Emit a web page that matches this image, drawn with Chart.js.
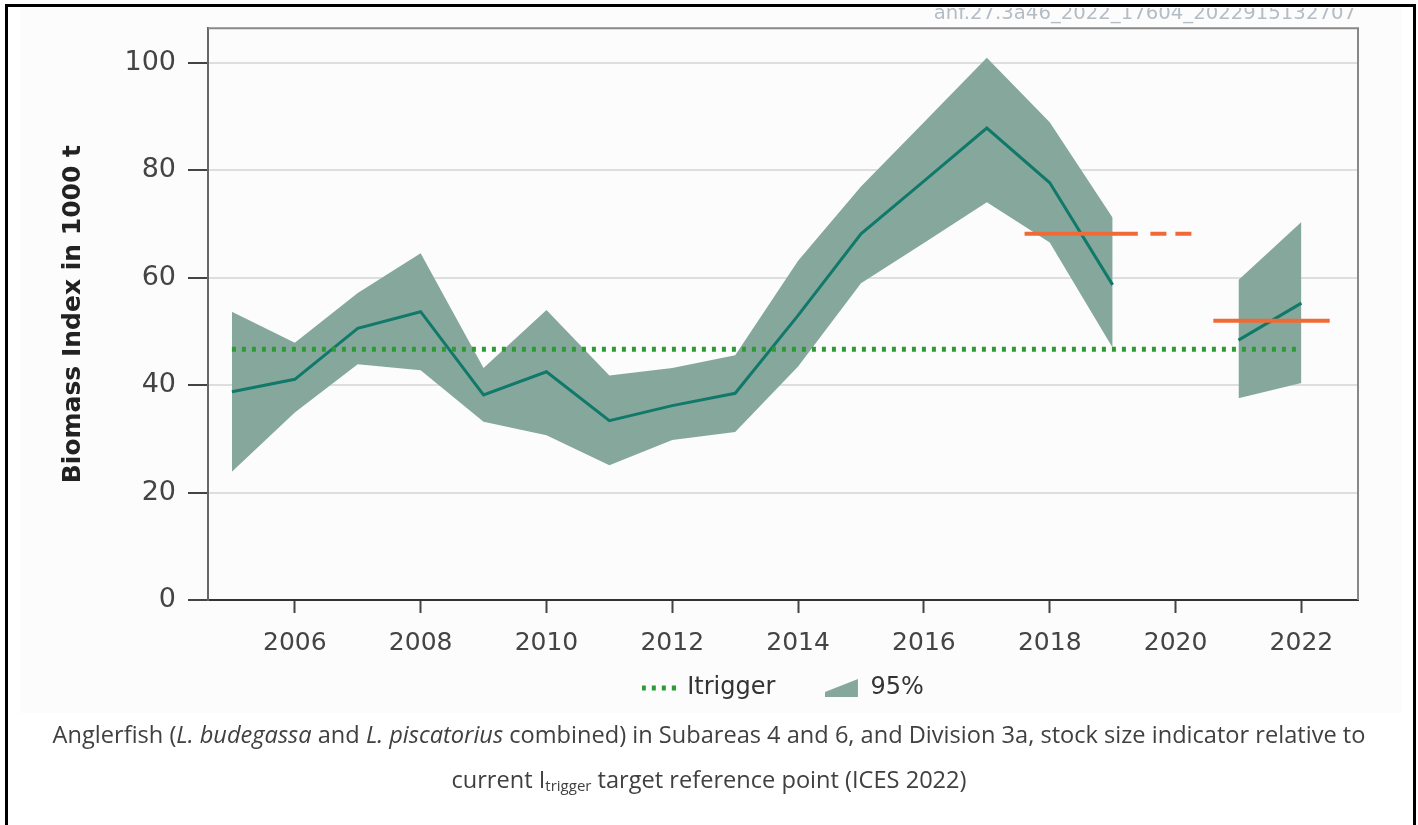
<!DOCTYPE html>
<html>
<head>
<meta charset="utf-8">
<script src="https://cdn.jsdelivr.net/npm/chart.js@4.4.1/dist/chart.umd.min.js"></script>
<style>
  html, body { margin: 0; padding: 0; background: #fff; overflow: hidden; }
  #bg { position: absolute; left: 20px; top: 8px; width: 1382px; height: 705px; background: #fcfcfc; }
  #chart { position: absolute; left: 0; top: 0; }
  #frame { position: absolute; left: 5px; top: 4px; width: 1411px; height: 840px; border: 3px solid #000; box-sizing: border-box; pointer-events: none; }
  #caption { position: absolute; left: 0; top: 712px; width: 1418px; text-align: center; color: #404040;
             font-family: "Open Sans", sans-serif; font-size: 23.6px; line-height: 45px; }
  #caption sub { font-size: 15px; vertical-align: -3px; line-height: 0; }
</style>
</head>
<body>
<div id="bg"></div>
<canvas id="chart" width="1418" height="710"></canvas>
<div id="frame"></div>
<div id="caption">
  Anglerfish (<i>L. budegassa</i> and <i>L. piscatorius</i> combined) in Subareas 4 and 6, and Division 3a, stock size indicator relative to<br>
  current I<sub>trigger</sub> target reference point (ICES 2022)
</div>
<script>
// valeurs (indice de biomasse, milliers de tonnes)
const years   = [2005, 2006, 2007, 2008, 2009, 2010, 2011, 2012, 2013, 2014, 2015, 2016, 2017, 2018, 2019, 2020, 2021, 2022];
const biomass = [38.8, 41.1, 50.6, 53.7, 38.2, 42.5, 33.4, 36.2, 38.5, 53.0, 68.2, 78.0, 87.9, 77.7, 58.7, null, 48.4, 55.3];
const lower95 = [23.9, 34.9, 43.9, 42.8, 33.2, 30.7, 25.1, 29.8, 31.3, 43.5, 59.0, 66.5, 74.1, 66.6, 47.0, null, 37.6, 40.4];
const upper95 = [53.7, 47.9, 57.2, 64.6, 43.2, 54.0, 41.8, 43.2, 45.6, 63.2, 77.0, 89.0, 101.0, 89.0, 71.2, null, 59.6, 70.4];

// Itrigger et lignes de référence (orange)
const itriggerValue = 46.7;
const itriggerYears = [2005, 2022];
const ref1Value = 68.2;
const ref1Years = [2017.6, 2019.4];
const ref1DashYears = [2019.6, 2020.35];
const ref2Value = 52.0;
const ref2Years = [2020.6, 2022.45];

const xTicks = [2006, 2008, 2010, 2012, 2014, 2016, 2018, 2020, 2022];
const yTicks = [0, 20, 40, 60, 80, 100];

const bandColor = '#86a89c';
const lineColor = '#10796a';
const greenColor = '#2e9a35';
const orangeColor = '#ef6a35';
const fontFamily = '"DejaVu Sans", Verdana, sans-serif';

// découpe une série en morceaux continus (trou en 2020)
function segments(values) {
  const out = [];
  let cur = [];
  years.forEach(function (yr, i) {
    if (values[i] == null) {
      if (cur.length) out.push(cur);
      cur = [];
    } else {
      cur.push({ x: yr, y: values[i] });
    }
  });
  if (cur.length) out.push(cur);
  return out;
}

function flat(xs, v) {
  return xs.map(function (x) { return { x: x, y: v }; });
}

const datasets = [];
const lowSegs = segments(lower95);
const upSegs = segments(upper95);
lowSegs.forEach(function (seg, k) {
  datasets.push({ data: seg, borderWidth: 0, pointRadius: 0, fill: false, order: 5 });
  datasets.push({ data: upSegs[k], borderWidth: 0, pointRadius: 0, backgroundColor: bandColor, fill: '-1', order: 5 });
});
segments(biomass).forEach(function (seg) {
  datasets.push({ data: seg, borderColor: lineColor, borderWidth: 3, pointRadius: 0, fill: false, order: 2 });
});
datasets.push({ data: flat(itriggerYears, itriggerValue), borderColor: greenColor, borderWidth: 5,
  borderDash: [4, 6], borderCapStyle: 'butt', pointRadius: 0, fill: false, order: 1 });
datasets.push({ data: flat(ref1Years, ref1Value), borderColor: orangeColor, borderWidth: 4, pointRadius: 0, fill: false, order: 0 });
datasets.push({ data: flat(ref1DashYears, ref1Value), borderColor: orangeColor, borderWidth: 4,
  borderDash: [16, 9], pointRadius: 0, fill: false, order: 0 });
datasets.push({ data: flat(ref2Years, ref2Value), borderColor: orangeColor, borderWidth: 4, pointRadius: 0, fill: false, order: 0 });

// icônes de la légende
function dottedIcon() {
  const c = document.createElement('canvas');
  c.width = 34; c.height = 8;
  const g = c.getContext('2d');
  g.strokeStyle = greenColor; g.lineWidth = 5; g.setLineDash([4, 6]);
  g.beginPath(); g.moveTo(0, 4); g.lineTo(34, 4); g.stroke();
  return c;
}
function wedgeIcon() {
  const c = document.createElement('canvas');
  c.width = 34; c.height = 20;
  const g = c.getContext('2d');
  g.fillStyle = bandColor;
  g.beginPath(); g.moveTo(0, 14); g.lineTo(33, 1); g.lineTo(33, 19); g.lineTo(0, 19); g.closePath(); g.fill();
  return c;
}
function blankIcon() {
  const c = document.createElement('canvas');
  c.width = 1; c.height = 1;
  return c;
}
// élément vide au milieu = espace entre les deux entrées
const icons = [dottedIcon(), blankIcon(), wedgeIcon()];
const legendTexts = ['Itrigger', '', '95%'];

const framePlugin = {
  id: 'frame',
  beforeDatasetsDraw: function (chart) {
    const ctx = chart.ctx, a = chart.chartArea;
    ctx.save();
    ctx.strokeStyle = '#888';
    ctx.lineWidth = 2;
    ctx.beginPath();
    ctx.moveTo(a.left, a.top);
    ctx.lineTo(a.right, a.top);
    ctx.lineTo(a.right, a.bottom);
    ctx.stroke();
    ctx.restore();
  }
};

const stampPlugin = {
  id: 'stamp',
  afterDraw: function (chart) {
    const ctx = chart.ctx;
    ctx.save();
    ctx.beginPath();
    ctx.rect(0, 8, chart.width, 30);
    ctx.clip();
    ctx.font = '19.7px ' + fontFamily;
    ctx.fillStyle = '#b4bcc4';
    ctx.textAlign = 'right';
    ctx.textBaseline = 'alphabetic';
    ctx.fillText('anf.27.3a46_2022_17604_2022915132707', 1356, 19);
    ctx.restore();
  }
};

new Chart(document.getElementById('chart').getContext('2d'), {
  type: 'line',
  data: { datasets: datasets },
  plugins: [framePlugin, stampPlugin],
  options: {
    responsive: false,
    animation: false,
    layout: { padding: { top: 28, right: 60, left: 0, bottom: 0 } },
    plugins: {
      tooltip: { enabled: false },
      legend: {
        position: 'bottom',
        fullSize: false,
        labels: {
          usePointStyle: true,
          pointStyleWidth: 33,
          padding: 2.5,
          color: '#333',
          font: { family: fontFamily, size: 24 },
          generateLabels: function () {
            return legendTexts.map(function (t, i) {
              return { text: t, pointStyle: icons[i], fillStyle: 'transparent', strokeStyle: 'transparent',
                       lineWidth: 0, hidden: false, datasetIndex: i, fontColor: '#333' };
            });
          }
        }
      }
    },
    scales: {
      x: {
        type: 'linear',
        min: 2004.62,
        max: 2022.9,
        afterBuildTicks: function (s) { s.ticks = xTicks.map(function (v) { return { value: v }; }); },
        afterFit: function (s) { s.height = 73.5; },
        ticks: { color: '#444', font: { family: fontFamily, size: 25 }, padding: 15, maxRotation: 0, autoSkip: false,
                 callback: function (v) { return String(v); } },
        grid: { drawOnChartArea: false, tickLength: 13, tickColor: '#444', tickWidth: 2 },
        border: { color: '#333', width: 2 }
      },
      y: {
        min: 0,
        max: 106.5,
        afterBuildTicks: function (s) { s.ticks = yTicks.map(function (v) { return { value: v }; }); },
        afterFit: function (s) { s.width = 208; },
        ticks: { color: '#444', font: { family: fontFamily, size: 27 }, padding: 12,
                 callback: function (v) { return String(v); } },
        grid: { color: '#dedede', lineWidth: 2, tickLength: 20, tickColor: '#444', tickWidth: 2 },
        border: { color: '#666', width: 2 },
        title: { display: true, text: 'Biomass Index in 1000 t', color: '#222',
                 font: { family: fontFamily, size: 25, weight: 'bold' }, padding: { top: 58, bottom: 0 } }
      }
    }
  }
});
</script>
</body>
</html>
